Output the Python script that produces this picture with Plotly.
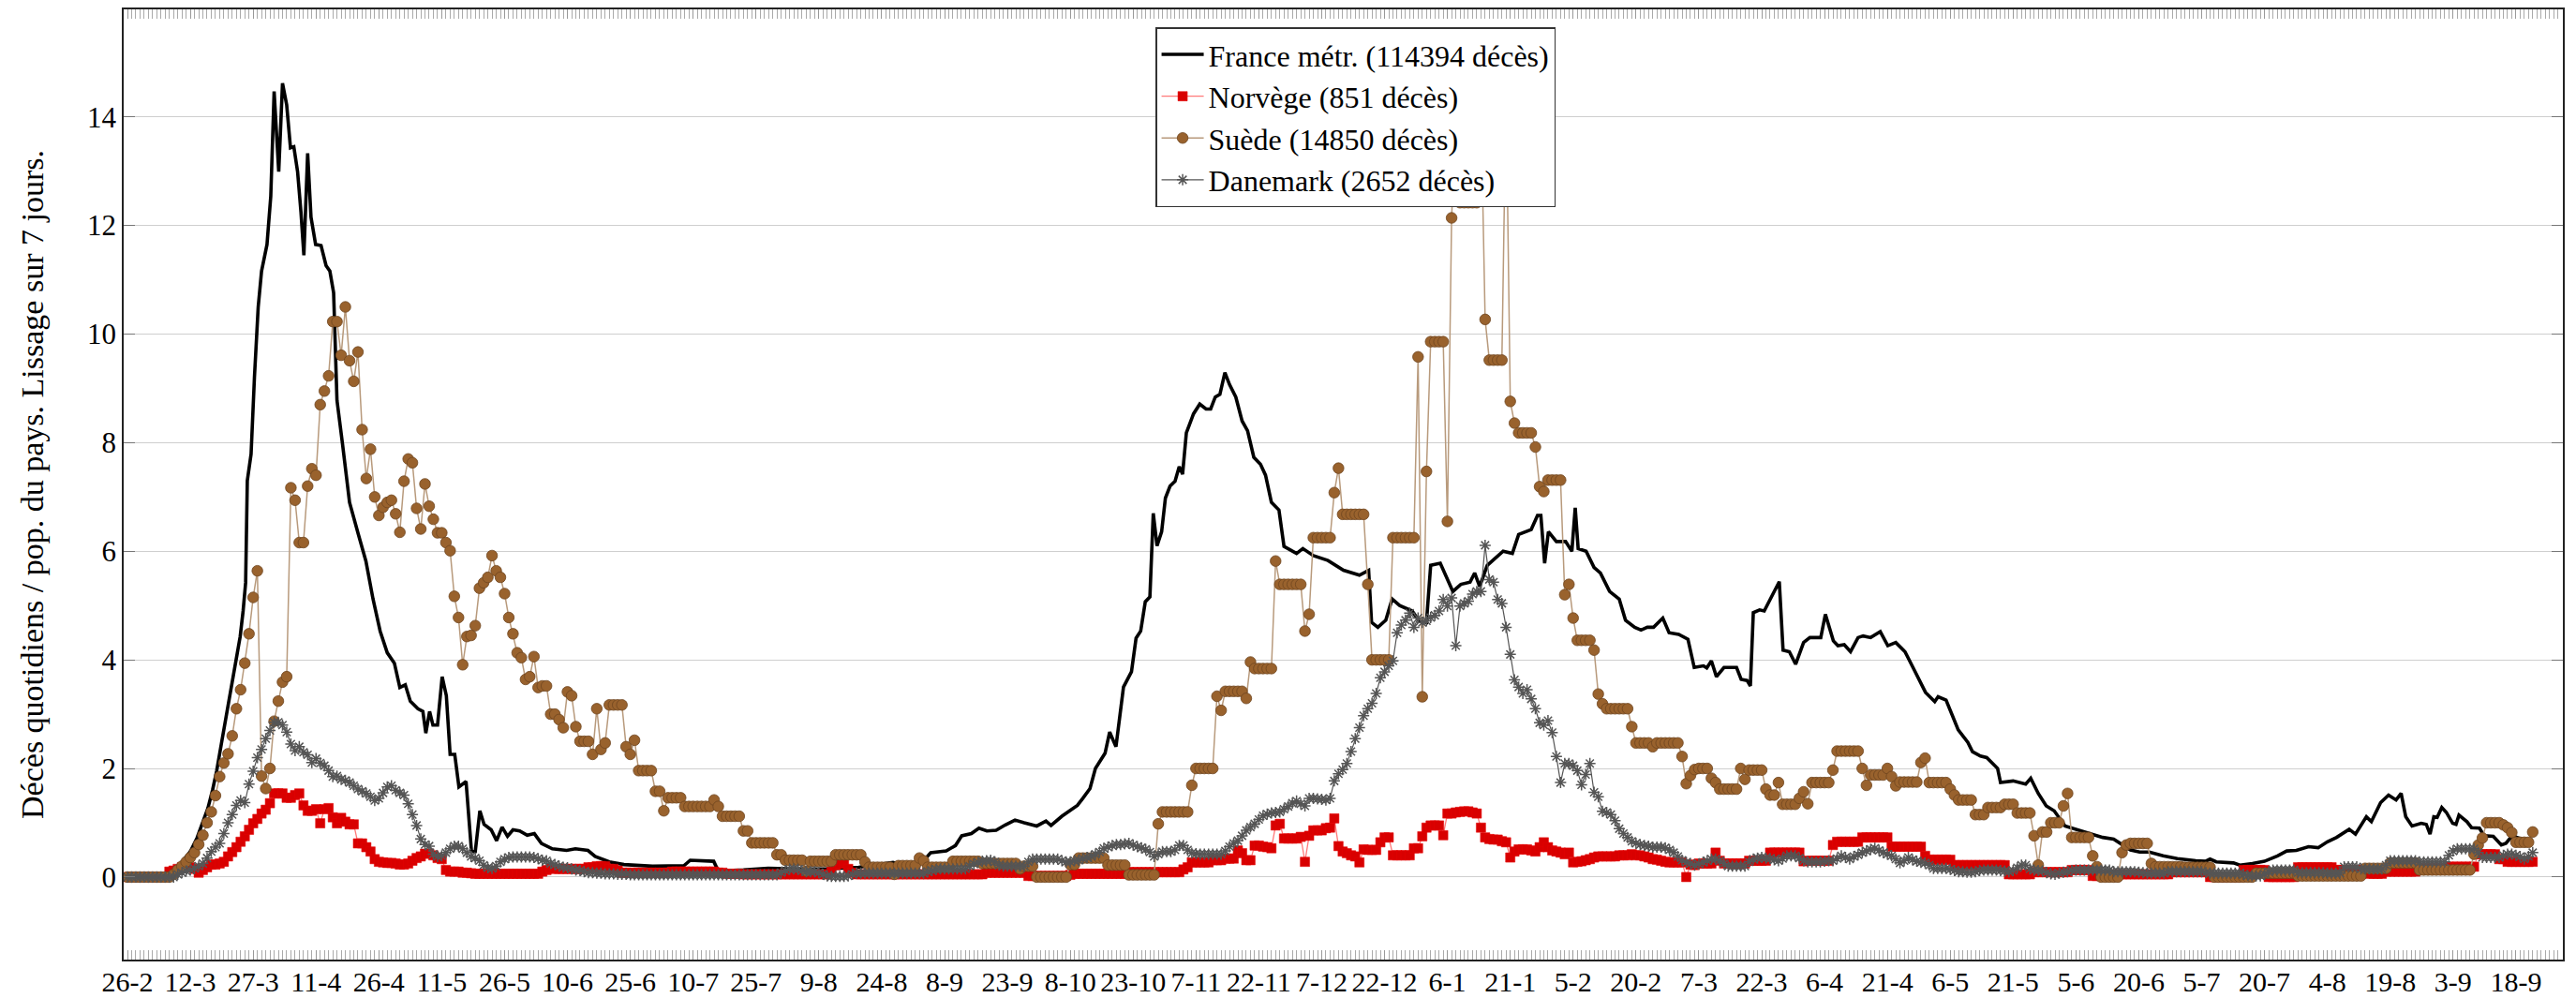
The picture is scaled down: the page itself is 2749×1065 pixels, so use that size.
import plotly.graph_objects as go

# ---------------- data ----------------
TICK_LABELS = ["26-2", "12-3", "27-3", "11-4", "26-4", "11-5", "26-5", "10-6", "25-6", "10-7",
               "25-7", "9-8", "24-8", "8-9", "23-9", "8-10", "23-10", "7-11", "22-11", "7-12",
               "22-12", "6-1", "21-1", "5-2", "20-2", "7-3", "22-3", "6-4", "21-4", "6-5",
               "21-5", "5-6", "20-6", "5-7", "20-7", "4-8", "19-8", "3-9", "18-9"]
TICK_STEP_DAYS = 15

SERIES_NAMES = ["France métr. (114394 décès)", "Norvège (851 décès)",
                "Suède (14850 décès)", "Danemark (2652 décès)"]

# France: (day since 26-2-2020, value)
FRANCE_PTS = [(0,0),(9,0.02),(11.5,0.13),(13,0.28),(15,0.47),(16.6,0.72),(18,1.0),(19.2,1.27),(20.3,1.6),
(21.3,1.96),(22.4,2.45),(23.5,2.95),(24.4,3.3),(25.2,3.64),(26,4.0),(26.9,4.43),(27.6,4.9),(28.2,5.42),
(28.6,7.3),(29.5,7.79),(30.3,9.2),(31.2,10.5),(32,11.16),(33.3,11.65),(34.2,12.54),(35,14.47),(36.1,12.99),
(37,14.62),(38,14.22),(38.9,13.43),(39.7,13.45),(40.6,12.99),(41.4,12.25),(42.1,11.45),(43,13.33),(43.8,12.15),
(44.9,11.65),(46.2,11.63),(47.4,11.26),(48.3,11.16),(49.2,10.76),(50,8.78),(51.3,7.99),(53,6.9),(55.1,6.31),
(56.9,5.82),(58.6,5.12),(60.3,4.53),(62,4.13),(63.7,3.94),(65,3.49),(66.3,3.54),(67.5,3.24),(69.3,3.1),
(70.5,3.05),(71.2,2.65),(72.1,3.05),(72.9,2.8),(74,2.8),(75.1,3.69),(76.1,3.34),(77,2.26),(78.1,2.26),
(79.1,1.66),(80.8,1.76),(82.1,0.47),(83,0.47),(84.1,1.22),(85.1,0.97),(86.8,0.87),(88.1,0.67),(89.4,0.92),
(90.7,0.75),(92,0.87),(93.6,0.85),(95.4,0.77),(97.1,0.8),(98.8,0.62),(101.4,0.52),(104.8,0.49),(106.9,0.52),
(109.9,0.49),(111.6,0.38),(115,0.28),(118.5,0.23),(125.3,0.2),(132.8,0.21),(134.3,0.31),(139.9,0.29),
(141,0.11),(147,0.13),(152.9,0.16),(160,0.15),(167,0.15),(174.5,0.18),(182.7,0.27),(185,0.22),(189.4,0.25),
(191.7,0.45),(195.4,0.48),(197.6,0.58),(199.1,0.76),(201.4,0.8),(203.2,0.9),(205.1,0.85),(207.3,0.86),
(209.5,0.96),(211.8,1.05),(214,1.0),(217,0.94),(219.2,1.03),(220.4,0.95),(223,1.12),(225.6,1.25),(226.7,1.32),
(228,1.45),(229.7,1.63),(231,2.0),(233.3,2.28),(234.4,2.67),(235.9,2.4),(237.7,3.5),(239.6,3.78),(240.7,4.4),
(241.8,4.53),(242.9,5.07),(244,5.16),(244.8,6.7),(245.7,6.1),(246.8,6.36),(247.7,6.98),(248.8,7.2),(250,7.29),
(251,7.56),(251.8,7.42),(252.7,8.18),(254.4,8.53),(255.9,8.71),(257.4,8.62),(258.5,8.62),(259.6,8.84),
(260.7,8.89),(261.9,9.29),(263,9.07),(264.5,8.84),(266,8.4),(267.3,8.22),(268.8,7.73),(270.4,7.6),(271.6,7.4),
(273,6.9),(274.8,6.76),(276,6.09),(279,5.96),(280.5,6.05),(283,5.92),(286.5,5.83),(290.2,5.65),(294,5.56),
(296.2,5.65),(296.9,4.69),(298.4,4.6),(300.3,4.73),(301.8,5.12),(303.6,5.0),(306.6,4.9),(308.1,4.73),(310,4.69),
(311,5.74),(313.3,5.78),(316.3,5.26),(318.2,5.39),(320.4,5.43),(321.5,5.6),(322.7,5.35),(324.5,5.74),(328.3,6.0),
(330.5,5.96),(332,6.31),(335,6.4),(336.5,6.66),(337.3,6.66),(338.2,5.78),(339.1,6.36),(341,6.18),(343.2,6.18),
(344.7,6.0),(345.5,6.8),(346.2,6.05),(348.1,6.0),(350,5.7),(351.5,5.6),(353.7,5.26),(356,5.12),(357.5,4.73),
(359.7,4.6),(361.2,4.55),(362.7,4.6),(364.2,4.6),(366.4,4.77),(367.9,4.5),(370.2,4.47),(372.4,4.38),(373.9,3.86),
(376.1,3.89),(376.9,3.85),(378,3.98),(379.2,3.69),(381,3.86),(384,3.86),(385.1,3.64),(386.5,3.62),(387.3,3.52),
(388,4.87),(389.5,4.92),(390.6,4.9),(391.7,5.07),(394.2,5.44),(395.1,4.18),(396.6,4.15),(398.1,3.92),(400,4.32),
(401.5,4.41),(404.1,4.41),(405.2,4.84),(407.1,4.35),(408.2,4.26),(409.7,4.28),(411.2,4.15),(413,4.41),(414.2,4.44),
(416,4.41),(418.3,4.52),(420.1,4.26),(422,4.32),(424.2,4.15),(426.5,3.8),(429.1,3.4),(431.3,3.23),(432.1,3.32),
(434,3.26),(436.9,2.71),(439.2,2.48),(440.3,2.31),(442.2,2.23),(443.7,2.2),(446.3,2.0),(447,1.74),(450,1.77),
(453,1.71),(454.2,1.82),(456,1.54),(457.9,1.31),(459.8,1.22),(462.4,0.94),(465,0.88),(469.1,0.79),(471.4,0.73),
(474,0.7),(476.6,0.58),(478,0.5),(480.2,0.46),(482.5,0.46),(485.8,0.39),(489.2,0.34),(493.6,0.3),(495.9,0.29),
(497,0.33),(498.5,0.28),(502.6,0.26),(504.1,0.22),(507.1,0.25),(510,0.29),(513.1,0.39),(515.3,0.48),(517.6,0.49),
(520.5,0.56),(522.8,0.54),(525,0.65),(527.2,0.73),(530.2,0.88),(531.7,0.79),(534.3,1.11),(535.5,1.02),
(537.7,1.37),(539.6,1.51),(541.4,1.42),(542.6,1.54),(543.7,1.11),(545.2,0.94),(547.4,0.99),(548.6,0.97),
(549.5,0.79),(550.4,1.11),(551.2,1.1),(552.3,1.28),(553.4,1.19),(554.9,0.99),(555.7,0.97),(556.4,1.14),
(558.3,1.02),(559.4,0.91),(561.3,0.9),(562.4,0.76),(564.6,0.75),(566.5,0.59),(567.6,0.62),(569.1,0.76),
(571.4,0.7),(574,0.68)]

# Daily values, one row per 15 days (row k starts at day 15*k)
NORWAY_ROWS = [
[0,0,0,0,0,0,0,0,0,0,0.1,0.12,0.15,0.18,0.18],
[0.18,0.15,0.08,0.13,0.18,0.23,0.23,0.25,0.28,0.38,0.46,0.55,0.65,0.75,0.87],
[0.99,1.07,1.17,1.24,1.36,1.54,1.54,1.54,1.46,1.46,1.51,1.54,1.32,1.22,1.22],
[1.25,0.99,1.25,1.27,1.1,0.99,1.09,1.02,0.97,0.97,0.62,0.62,0.55,0.47,0.33],
[0.28,0.27,0.26,0.26,0.25,0.23,0.23,0.25,0.3,0.35,0.38,0.43,0.43,0.4,0.35],
[0.33,0.13,0.1,0.1,0.1,0.08,0.08,0.07,0.06,0.06,0.06,0.06,0.06,0.06,0.06],
[0.06,0.06,0.06,0.06,0.06,0.06,0.06,0.06,0.06,0.1,0.13,0.16,0.15,0.15,0.15],
[0.15,0.15,0.15,0.15,0.15,0.18,0.18,0.2,0.2,0.2,0.15,0.15,0.12,0.08,0.08],
[0.08,0.08,0.08,0.08,0.08,0.08,0.08,0.08,0.08,0.08,0.1,0.1,0.1,0.1,0.1],
[0.1,0.1,0.1,0.1,0.1,0.1,0.08,0.08,0.06,0.06,0.06,0.06,0.05,0.05,0.05],
[0.05,0.05,0.05,0.05,0.05,0.05,0.05,0.05,0.05,0.05,0.05,0.05,0.05,0.05,0.05],
[0.05,0.05,0.05,0.1,0.22,0.25,0.25,0.15,0.08,0.05,0.05,0.05,0.05,0.05,0.05],
[0.05,0.05,0.05,0.05,0.05,0.05,0.05,0.05,0.05,0.05,0.05,0.05,0.05,0.05,0.05],
[0.05,0.05,0.05,0.05,0.05,0.05,0.05,0.05,0.05,0.05,0.08,0.08,0.08,0.08,0.08],
[0.08,0.08,0.08,0.08,0.08,0.02,0.02,0.02,0.02,0.02,0.02,0.02,0.02,0.02,0.02],
[0.04,0.06,0.06,0.06,0.06,0.06,0.06,0.06,0.06,0.06,0.06,0.06,0.06,0.06,0.09],
[0.09,0.09,0.09,0.09,0.09,0.09,0.09,0.09,0.09,0.09,0.09,0.09,0.14,0.18,0.27],
[0.27,0.27,0.27,0.27,0.31,0.31,0.31,0.34,0.34,0.34,0.49,0.44,0.31,0.31,0.58],
[0.58,0.56,0.55,0.53,0.95,0.98,0.71,0.71,0.71,0.71,0.74,0.28,0.76,0.86,0.86],
[0.86,0.9,0.91,1.08,0.57,0.47,0.44,0.4,0.38,0.27,0.51,0.5,0.5,0.5,0.64],
[0.73,0.73,0.4,0.4,0.4,0.4,0.4,0.53,0.53,0.75,0.91,0.95,0.95,0.95,0.77],
[1.17,1.17,1.19,1.2,1.21,1.21,1.19,1.17,0.91,0.73,0.7,0.69,0.69,0.66,0.64],
[0.36,0.47,0.51,0.51,0.51,0.49,0.47,0.55,0.64,0.55,0.49,0.47,0.45,0.42,0.45],
[0.27,0.28,0.29,0.31,0.33,0.36,0.38,0.38,0.38,0.38,0.38,0.4,0.4,0.4,0.42],
[0.4,0.4,0.38,0.36,0.33,0.32,0.3,0.28,0.27,0.27,0.27,0.27,0.0,0.23,0.22],
[0.25,0.25,0.25,0.25,0.45,0.3,0.25,0.25,0.25,0.25,0.25,0.25,0.3,0.3,0.3],
[0.3,0.3,0.45,0.45,0.45,0.45,0.45,0.45,0.45,0.45,0.29,0.3,0.3,0.3,0.3],
[0.3,0.3,0.59,0.65,0.65,0.65,0.65,0.65,0.65,0.73,0.73,0.73,0.73,0.73,0.73],
[0.73,0.56,0.56,0.56,0.56,0.56,0.56,0.56,0.56,0.39,0.32,0.32,0.32,0.32,0.32],
[0.32,0.22,0.22,0.22,0.22,0.22,0.22,0.22,0.22,0.22,0.22,0.22,0.22,0.22,0.05],
[0.05,0.05,0.05,0.05,0.05,0.09,0.09,0.09,0.09,0.09,0.09,0.09,0.09,0.09,0.13],
[0.13,0.13,0.13,0.13,0.02,0.02,0.02,0.02,0.02,0.05,0.05,0.05,0.05,0.05,0.05],
[0.05,0.05,0.05,0.05,0.05,0.05,0.05,0.05,0.09,0.09,0.09,0.09,0.09,0.09,0.09],
[0.09,0.09,0.0,0.0,0.0,0.0,0.0,0.0,0.0,0.0,0.13,0.13,0.13,0.13,0.13],
[0.13,0.0,0.0,0.0,0.0,0.0,0.0,0.0,0.18,0.18,0.18,0.18,0.18,0.18,0.18],
[0.18,0.18,0.13,0.13,0.13,0.13,0.13,0.13,0.13,0.13,0.06,0.06,0.06,0.06,0.1],
[0.1,0.1,0.1,0.1,0.1,0.1,0.1,0.16,0.16,0.16,0.16,0.16,0.16,0.16,0.19],
[0.19,0.19,0.19,0.19,0.19,0.19,0.42,0.42,0.42,0.42,0.42,0.33,0.33,0.28,0.28],
[0.28,0.28,0.28,0.28,0.28],
]

SWEDEN_ROWS = [
[0,0,0,0,0,0,0,0,0,0,0,0.05,0.13,0.2,0.28],
[0.36,0.45,0.6,0.77,1.0,1.2,1.5,1.85,2.1,2.27,2.6,3.1,3.45,3.94,4.48],
[5.15,5.64,1.86,1.63,2.0,2.87,3.24,3.59,3.69,7.17,6.94,6.16,6.16,7.2,7.52],
[7.4,8.7,8.95,9.23,10.23,10.23,9.61,10.5,9.51,9.13,9.67,8.24,7.34,7.88,7.0],
[6.66,6.81,6.9,6.94,6.69,6.35,7.29,7.7,7.63,6.79,6.41,7.24,6.83,6.59,6.34],
[6.34,6.16,6.01,5.17,4.78,3.91,4.43,4.45,4.63,5.32,5.42,5.52,5.92,5.64,5.52],
[5.22,4.78,4.48,4.13,4.04,3.64,3.69,4.06,3.49,3.52,3.52,3.0,3.0,2.9,2.75],
[3.41,3.34,2.77,2.5,2.5,2.5,2.26,3.1,2.35,2.47,3.17,3.17,3.17,3.17,2.4],
[2.26,2.52,1.96,1.96,1.96,1.96,1.58,1.58,1.22,1.46,1.46,1.46,1.46,1.3,1.3],
[1.3,1.3,1.3,1.3,1.3,1.42,1.3,1.12,1.12,1.12,1.12,1.12,0.85,0.85,0.63],
[0.63,0.63,0.63,0.63,0.63,0.41,0.41,0.31,0.31,0.31,0.31,0.31,0.11,0.29,0.29],
[0.29,0.29,0.29,0.29,0.41,0.41,0.41,0.41,0.41,0.41,0.41,0.28,0.18,0.18,0.18],
[0.18,0.18,0.18,0.05,0.21,0.21,0.21,0.21,0.21,0.35,0.3,0.18,0.18,0.18,0.18],
[0.18,0.18,0.29,0.29,0.29,0.29,0.29,0.29,0.29,0.25,0.25,0.25,0.25,0.25,0.25],
[0.25,0.25,0.25,0.15,0.2,0.2,0.2,0,0,0,0,0,0,0,0],
[0.23,0.23,0.35,0.35,0.35,0.35,0.35,0.35,0.35,0.22,0.22,0.22,0.22,0.22,0.04],
[0.04,0.04,0.04,0.04,0.04,0.04,0.98,1.2,1.2,1.2,1.2,1.2,1.2,1.2,1.69],
[2.0,2.0,2.0,2.0,2.0,3.33,3.07,3.42,3.42,3.42,3.42,3.42,3.29,3.96,3.84],
[3.84,3.84,3.84,3.84,5.82,5.39,5.39,5.39,5.39,5.39,5.39,4.53,4.84,6.25,6.25],
[6.25,6.25,6.25,7.08,7.53,6.68,6.68,6.68,6.68,6.68,6.68,5.39,4.0,4.0,4.0],
[4.0,4.0,6.25,6.25,6.25,6.25,6.25,6.25,9.58,3.32,7.47,9.86,9.86,9.86,9.86],
[6.55,12.14,14.0,12.42,12.42,12.42,12.42,12.42,14.2,10.27,9.52,9.52,9.52,9.52,14.5],
[8.76,8.36,8.18,8.18,8.18,8.18,7.92,7.19,7.1,7.31,7.31,7.31,7.31,5.2,5.39],
[4.77,4.36,4.36,4.36,4.36,4.18,3.37,3.19,3.1,3.1,3.1,3.1,3.1,3.1,2.77],
[2.47,2.47,2.47,2.47,2.4,2.47,2.47,2.47,2.47,2.47,2.47,2.22,1.72,1.87,1.98],
[2.0,2.0,2.0,1.82,1.74,1.62,1.62,1.62,1.62,1.62,2.0,1.8,1.97,1.97,1.97],
[1.97,1.62,1.51,1.51,1.74,1.34,1.34,1.34,1.34,1.45,1.57,1.35,1.74,1.74,1.74],
[1.74,1.74,1.97,2.32,2.32,2.32,2.32,2.32,2.32,2.0,1.69,1.88,1.88,1.88,1.88],
[2.0,1.85,1.68,1.75,1.75,1.75,1.75,1.75,2.11,2.19,1.74,1.74,1.74,1.74,1.74],
[1.62,1.51,1.42,1.42,1.42,1.42,1.15,1.15,1.15,1.28,1.28,1.28,1.28,1.34,1.34],
[1.34,1.18,1.18,1.18,1.18,0.76,0.22,0.83,0.83,1.0,1.0,1.0,1.31,1.54,0.73],
[0.73,0.73,0.73,0.73,0.39,0.19,0,0,0,0,0,0.45,0.59,0.62,0.62],
[0.62,0.62,0.62,0.25,0.19,0.19,0.19,0.19,0.19,0.19,0.19,0.18,0.18,0.18,0.18],
[0.18,0.18,0.18,0,0,0,0,0,0,0,0,0,0,0.07,0.07],
[0.07,0.07,0.07,0.07,0.07,0.07,0.07,0.07,0.02,0.02,0.02,0.02,0.02,0.02,0.02],
[0.02,0.02,0.02,0.02,0.02,0.02,0.02,0.02,0.02,0.16,0.16,0.16,0.16,0.16,0.16],
[0.26,0.26,0.26,0.26,0.26,0.26,0.26,0.13,0.13,0.13,0.13,0.13,0.13,0.13,0.13],
[0.13,0.13,0.13,0.13,0.13,0.42,0.59,0.72,1.0,1.0,1.0,1.0,0.96,0.91,0.82],
[0.64,0.64,0.64,0.64,0.83],
]

DENMARK_ROWS = [
[0,0,0,0,0,0,0,0,0,0,0,0,0.05,0.08,0.11],
[0.13,0.16,0.2,0.25,0.35,0.47,0.55,0.62,0.8,1.0,1.15,1.32,1.41,1.37,1.71],
[1.95,2.2,2.35,2.55,2.7,2.85,2.85,2.8,2.67,2.45,2.33,2.4,2.3,2.25,2.11],
[2.18,2.1,2.05,1.96,1.85,1.86,1.8,1.78,1.74,1.68,1.62,1.58,1.54,1.48,1.41],
[1.45,1.55,1.66,1.68,1.6,1.55,1.51,1.35,1.15,0.95,0.7,0.6,0.57,0.42,0.38],
[0.39,0.45,0.52,0.57,0.57,0.52,0.45,0.38,0.35,0.3,0.22,0.17,0.16,0.2,0.28],
[0.33,0.36,0.37,0.37,0.37,0.37,0.37,0.36,0.34,0.31,0.3,0.25,0.23,0.2,0.18],
[0.17,0.15,0.13,0.12,0.1,0.08,0.08,0.07,0.07,0.06,0.06,0.06,0.05,0.05,0.05],
[0.04,0.04,0.04,0.04,0.04,0.04,0.04,0.04,0.04,0.04,0.04,0.04,0.04,0.04,0.04],
[0.04,0.04,0.04,0.04,0.04,0.04,0.04,0.04,0.04,0.04,0.04,0.04,0.04,0.04,0.04],
[0.04,0.04,0.04,0.04,0.04,0.04,0.08,0.12,0.14,0.15,0.14,0.12,0.1,0.1,0.1],
[0.08,0.05,0.02,0.01,0.01,0.01,0.01,0.02,0.05,0.07,0.07,0.07,0.07,0.07,0.07],
[0.07,0.07,0.07,0.07,0.07,0.07,0.07,0.07,0.07,0.07,0.07,0.1,0.12,0.14,0.15],
[0.15,0.15,0.15,0.15,0.15,0.15,0.2,0.24,0.27,0.29,0.3,0.31,0.28,0.22,0.2],
[0.2,0.2,0.2,0.2,0.2,0.28,0.33,0.33,0.33,0.33,0.33,0.33,0.33,0.3,0.28],
[0.28,0.3,0.31,0.34,0.36,0.38,0.42,0.46,0.53,0.55,0.58,0.6,0.6,0.61,0.62],
[0.59,0.56,0.54,0.51,0.46,0.38,0.42,0.47,0.47,0.47,0.5,0.58,0.58,0.5,0.44],
[0.43,0.42,0.42,0.42,0.42,0.42,0.42,0.48,0.56,0.62,0.67,0.76,0.86,0.92,0.98],
[1.06,1.13,1.16,1.18,1.19,1.2,1.25,1.3,1.36,1.4,1.35,1.31,1.45,1.45,1.44],
[1.43,1.42,1.45,1.77,1.9,1.98,2.09,2.31,2.55,2.75,2.97,3.1,3.2,3.38,3.67],
[3.78,3.89,3.98,4.5,4.64,4.73,4.86,4.6,4.77,4.69,4.72,4.78,4.82,4.9,5.11],
[4.99,5.14,4.26,4.99,5.04,5.08,5.21,5.26,5.26,6.11,5.48,5.43,5.11,5.04,4.6],
[4.1,3.63,3.5,3.38,3.45,3.28,3.1,2.84,2.8,2.88,2.66,2.22,1.74,2.09,2.09],
[2.05,1.96,1.7,1.89,2.09,1.56,1.48,1.21,1.19,1.15,1.04,0.89,0.8,0.73,0.66],
[0.62,0.6,0.58,0.57,0.55,0.55,0.55,0.54,0.5,0.45,0.38,0.31,0.27,0.25,0.22],
[0.24,0.27,0.3,0.33,0.33,0.3,0.25,0.2,0.2,0.2,0.2,0.2,0.28,0.33,0.35],
[0.36,0.35,0.34,0.32,0.3,0.34,0.39,0.39,0.39,0.35,0.3,0.28,0.28,0.28,0.28],
[0.29,0.3,0.3,0.34,0.39,0.36,0.33,0.38,0.41,0.45,0.48,0.51,0.53,0.49,0.45],
[0.42,0.39,0.33,0.26,0.3,0.36,0.32,0.29,0.27,0.26,0.22,0.16,0.16,0.16,0.16],
[0.14,0.12,0.1,0.1,0.09,0.09,0.1,0.12,0.13,0.13,0.13,0.13,0.12,0.11,0.1],
[0.12,0.17,0.22,0.22,0.15,0.13,0.12,0.11,0.08,0.06,0.05,0.07,0.09,0.1,0.12],
[0.13,0.13,0.13,0.13,0.13,0.13,0.13,0.13,0.13,0.1,0.1,0.1,0.1,0.1,0.1],
[0.09,0.08,0.07,0.07,0.07,0.07,0.07,0.1,0.1,0.1,0.1,0.1,0.1,0.1,0.1],
[0.1,0.08,0.07,0.07,0.07,0.07,0.07,0.07,0.07,0.07,0.05,0.03,0.02,0.02,0.02],
[0.05,0.1,0.13,0.13,0.13,0.13,0.13,0.13,0.08,0.08,0.08,0.08,0.08,0.08,0.08],
[0.07,0.07,0.07,0.07,0.19,0.19,0.19,0.19,0.15,0.15,0.15,0.15,0.15,0.15,0.22],
[0.3,0.3,0.3,0.3,0.3,0.3,0.3,0.28,0.28,0.28,0.28,0.28,0.28,0.28,0.4],
[0.48,0.52,0.52,0.52,0.52,0.52,0.45,0.36,0.36,0.36,0.36,0.36,0.4,0.42,0.42],
[0.4,0.38,0.33,0.38,0.45],
]


def rows_to_xy(rows, step):
    xs, ys = [], []
    for k, row in enumerate(rows):
        for i, v in enumerate(row):
            xs.append(k * step + i)
            ys.append(v)
    return xs, ys


FONT = "Liberation Serif"
fr_x = [p[0] for p in FRANCE_PTS]
fr_y = [p[1] for p in FRANCE_PTS]
no_x, no_y = rows_to_xy(NORWAY_ROWS, TICK_STEP_DAYS)
se_x, se_y = rows_to_xy(SWEDEN_ROWS, TICK_STEP_DAYS)
dk_x, dk_y = rows_to_xy(DENMARK_ROWS, TICK_STEP_DAYS)

fig = go.Figure()
fig.add_trace(go.Scatter(x=fr_x, y=fr_y, mode="lines", name=SERIES_NAMES[0],
                         line=dict(color="black", width=3.6)))
fig.add_trace(go.Scatter(x=no_x, y=no_y, mode="lines+markers", name=SERIES_NAMES[1],
                         line=dict(color="#ff7a7a", width=1.3),
                         marker=dict(symbol="square", size=10, color="#d80000",
                                     line=dict(color="#e60000", width=0.5))))
fig.add_trace(go.Scatter(x=se_x, y=se_y, mode="lines+markers", name=SERIES_NAMES[2],
                         line=dict(color="#b89a7c", width=1.5),
                         marker=dict(symbol="circle", size=11.5, color="#99622d",
                                     line=dict(color="#6e4520", width=0.8))))
fig.add_trace(go.Scatter(x=dk_x, y=dk_y, mode="lines+markers", name=SERIES_NAMES[3],
                         line=dict(color="#555555", width=1.2),
                         marker=dict(symbol="asterisk-open", size=10,
                                     line=dict(color="black", width=1.5))))

tickvals = [i * TICK_STEP_DAYS for i in range(len(TICK_LABELS))]

fig.update_layout(
    width=2749, height=1065,
    margin=dict(l=132, r=14, t=10, b=41, pad=0, autoexpand=False),
    plot_bgcolor="white", paper_bgcolor="white",
    font=dict(family=FONT, size=31, color="black"),
    showlegend=True,
    legend=dict(x=0.423, y=0.981, xanchor="left", yanchor="top",
                bgcolor="white", bordercolor="#333333", borderwidth=1.5,
                font=dict(family=FONT, size=32, color="black"),
                itemwidth=45, tracegroupgap=0),
    xaxis=dict(range=[-0.9, 581.2], tickmode="array", tickvals=tickvals, ticktext=TICK_LABELS,
               ticks="inside", ticklen=10, tickcolor="#999999", tickwidth=1,
               minor=dict(ticks="inside", dtick=1, tick0=0, ticklen=10, tickcolor="#aaaaaa", tickwidth=1),
               showline=True, linecolor="#222222", linewidth=1.6, mirror="ticks",
               showgrid=False, zeroline=False, tickangle=0, ticklabelstandoff=-4,
               tickfont=dict(family=FONT, size=30, color="black")),
    yaxis=dict(range=[-1.52, 15.98], tickmode="array", tickvals=[0, 2, 4, 6, 8, 10, 12, 14],
               ticks="inside", ticklen=12, tickcolor="#777777", tickwidth=1,
               showline=True, linecolor="#222222", linewidth=1.6, mirror="ticks",
               showgrid=True, gridcolor="#cfcfcf", gridwidth=1.3, zeroline=False,
               tickfont=dict(family=FONT, size=31, color="black"),
               title=dict(text="Décès quotidiens / pop. du pays. Lissage sur 7 jours.",
                          font=dict(family=FONT, size=34, color="black"), standoff=36)),
)

fig.write_html("out.html", config={"displayModeBar": False},
               post_script="document.body.style.margin='0px';")
